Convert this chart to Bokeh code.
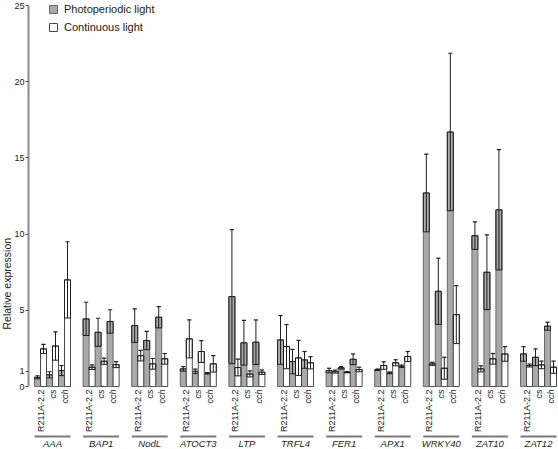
import math
from bokeh.plotting import figure
from bokeh.models import (ColumnDataSource, FixedTicker, Legend, LegendItem, Range1d, Title)
from bokeh.embed import file_html
from bokeh.resources import INLINE
from bokeh.core.properties import value

# ---------------- data ----------------
genes = ["AAA", "BAP1", "NodL", "ATOCT3", "LTP", "TRFL4", "FER1", "APX1", "WRKY40", "ZAT10", "ZAT12"]
genotypes = ["R211A-2.2", "cs", "cch"]
genotype_styles = ["normal", "italic", "italic"]

photo_mean = [[0.61, 0.77, 1.05], [4.44, 3.56, 4.27], [4.00, 3.02, 4.55], [1.16, 1.00, 0.87],
              [5.90, 2.87, 2.91], [3.06, 1.64, 1.75], [1.05, 1.23, 1.79], [1.10, 0.90, 1.33],
              [12.70, 6.25, 16.70], [9.90, 7.50, 11.60], [2.14, 1.92, 3.96]]
photo_sd = [[0.10, 0.20, 0.33], [1.09, 0.92, 0.77], [1.10, 0.60, 0.70], [0.15, 0.15, 0.05],
            [4.40, 1.47, 1.46], [1.60, 0.80, 0.55], [0.15, 0.08, 0.35], [0.05, 0.06, 0.08],
            [2.55, 2.17, 5.17], [0.90, 2.45, 3.95], [0.48, 0.55, 0.26]]
cont_mean = [[2.47, 2.66, 7.00], [1.27, 1.66, 1.44], [2.03, 1.49, 1.82], [3.13, 2.30, 1.49],
             [1.25, 0.83, 0.94], [2.62, 1.88, 1.56], [0.98, 0.94, 1.12], [1.38, 1.56, 1.97],
             [1.49, 1.20, 4.72], [1.16, 1.82, 2.14], [1.38, 1.42, 1.27]]
cont_sd = [[0.30, 0.93, 2.50], [0.15, 0.20, 0.20], [0.35, 0.35, 0.35], [1.25, 0.72, 0.54],
           [0.55, 0.20, 0.15], [1.45, 1.15, 0.40], [0.10, 0.04, 0.15], [0.25, 0.20, 0.33],
           [0.10, 0.72, 1.90], [0.20, 0.35, 0.48], [0.10, 0.25, 0.40]]

y_ticks = [0, 1, 5, 10, 15, 20, 25]
series_names = ["Photoperiodic light", "Continuous light"]
y_title = "Relative expression"

# ---------------- layout helpers ----------------
PERIOD = 8.1      # group pitch in bar-width units
BW = 1.0          # bar width
FONT = "Liberation Sans"
W, H = 558, 449

def bar_x(g, j, s):
    return g * PERIOD + 2 * j + s + 0.5

series = [(photo_mean, photo_sd, "#a9a9a9", "#6a6a6a"),
          (cont_mean, cont_sd, "#ffffff", "#4a4a4a")]

p = figure(width=W, height=H, output_backend="svg", toolbar_location=None,
           x_range=Range1d(-1, 10 * PERIOD + 6 + 0.33), y_range=Range1d(-4.13, 25.33),
           min_border_left=28, min_border_right=0, min_border_top=0, min_border_bottom=0)
p.outline_line_color = None
p.xgrid.visible = False
p.ygrid.visible = False
p.xaxis.visible = False
p.background_fill_color = "white"
p.border_fill_color = "white"

yax = p.yaxis[0]
yax.ticker = FixedTicker(ticks=y_ticks)
yax.bounds = (0, 25)
yax.axis_line_color = "#8c8c8c"
yax.axis_line_width = 2
yax.major_tick_line_color = "#555555"
yax.major_tick_out = 3
yax.major_tick_in = 0
yax.minor_tick_line_color = None
yax.major_label_text_font = FONT
yax.major_label_text_font_size = "9px"
yax.major_label_text_color = "#222222"
yax.major_label_standoff = 1

# y title placed in the left panel, shifted down as in the original
p.add_layout(Title(text=y_title, align="left", offset=120, standoff=-3,
                   text_font=FONT, text_font_size="10.5px", text_font_style="normal",
                   text_color="#222222"), "left")

bar_renderers = []
for s, (means, sds, fill, line) in enumerate(series):
    xs, tops, lo, hi = [], [], [], []
    for g in range(len(genes)):
        for j in range(len(genotypes)):
            xs.append(bar_x(g, j, s))
            m = means[g][j]
            d = sds[g][j]
            tops.append(m)
            lo.append(max(0.0, m - d))
            hi.append(m + d)
    src = ColumnDataSource(dict(x=xs, top=tops, lo=lo, hi=hi,
                                left=[x - BW / 2 for x in xs], right=[x + BW / 2 for x in xs],
                                cl=[x - 0.35 for x in xs], cr=[x + 0.35 for x in xs]))
    r = p.vbar(x="x", top="top", bottom=0, width=BW, source=src,
               fill_color=fill, line_color=line, line_width=1)
    bar_renderers.append(r)
    # lower error part: dark box from mean-sd to mean
    p.quad(left="left", right="right", bottom="lo", top="top", source=src,
           fill_alpha=0, line_color="#1e1e1e", line_width=1)
    # centre line and cap
    p.segment(x0="x", y0="lo", x1="x", y1="hi", source=src, line_color="#1e1e1e", line_width=1)
    p.segment(x0="cl", y0="hi", x1="cr", y1="hi", source=src, line_color="#1e1e1e", line_width=1.2)

# genotype labels (rotated)
lx, lt, ls = [], [], []
for g in range(len(genes)):
    for j, gt in enumerate(genotypes):
        lx.append(g * PERIOD + 2 * j + 1.0)
        lt.append(gt)
        ls.append(genotype_styles[j])
lab_src = ColumnDataSource(dict(x=lx, text=lt, style=ls))
p.text(x="x", y=-0.2, text="text", source=lab_src, angle=math.pi / 2,
       text_align="right", text_baseline="middle", text_font=value(FONT),
       text_font_size="9px", text_font_style="style", text_color="#222222")

# gene underline and names
gx0 = [g * PERIOD for g in range(len(genes))]
gx1 = [g * PERIOD + 6 for g in range(len(genes))]
gc = [g * PERIOD + 3 for g in range(len(genes))]
gsrc = ColumnDataSource(dict(x0=gx0, x1=gx1, xc=gc, name=genes))
p.segment(x0="x0", y0=-3.28, x1="x1", y1=-3.28, source=gsrc, line_color="#7a7a7a", line_width=2)
p.text(x="xc", y=-3.74, text="name", source=gsrc, text_align="center", text_baseline="middle",
       text_font=value(FONT), text_font_size="9.5px", text_font_style="italic", text_color="#222222")

legend = Legend(items=[LegendItem(label=series_names[0], renderers=[bar_renderers[0]]),
                       LegendItem(label=series_names[1], renderers=[bar_renderers[1]])],
                location=(20, H - 33), orientation="vertical",
                glyph_width=10, glyph_height=10, label_height=10, spacing=6,
                label_standoff=6, padding=0, margin=0,
                label_text_font=FONT, label_text_font_size="11px", label_text_color="#222222",
                border_line_color=None, background_fill_alpha=0)
p.add_layout(legend)

open("out.html", "w").write(file_html(p, INLINE))
